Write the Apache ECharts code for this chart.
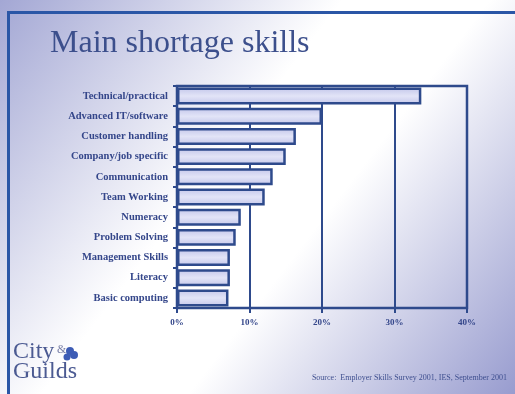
<!DOCTYPE html>
<html>
<head>
<meta charset="utf-8">
<script src="https://cdn.jsdelivr.net/npm/echarts@6/dist/echarts.min.js"></script>
<style>
  html, body { margin: 0; padding: 0; }
  #main { width: 515px; height: 394px; }
</style>
</head>
<body>
<div id="main"></div>
<script>
// skill categories, top to bottom
const skills = [
  'Technical/practical', 'Advanced IT/software', 'Customer handling',
  'Company/job specific', 'Communication', 'Team Working', 'Numeracy',
  'Problem Solving', 'Management Skills', 'Literacy', 'Basic computing'
]
// share of establishments (%)
const shortage = [33.7, 20.0, 16.4, 15.0, 13.2, 12.1, 8.8, 8.1, 7.3, 7.3, 7.1]
const xTicks = [0, 10, 20, 30, 40]

const dark = '#2e4a8c'
const textBlue = '#34468a'
const serif = '"Liberation Serif", "DejaVu Serif", serif'

const chart = echarts.init(document.getElementById('main'))

chart.setOption({
  animation: false,
  // lavender top-left and bottom-right, white band across the middle
  backgroundColor: new echarts.graphic.LinearGradient(0, 0, 1, 1, [
    { offset: 0, color: '#a3a7d4' },
    { offset: 0.42, color: '#ffffff' },
    { offset: 0.6, color: '#ffffff' },
    { offset: 1, color: '#989ccf' }
  ]),
  grid: {
    left: 177, right: 48, top: 86, bottom: 86,
    show: true, borderColor: dark, borderWidth: 2.5,
    backgroundColor: 'transparent'
  },
  xAxis: {
    type: 'value',
    min: xTicks[0],
    max: xTicks[xTicks.length - 1],
    interval: 10,
    axisLine: { show: true, lineStyle: { color: dark, width: 2 } },
    axisTick: { show: true, length: 5, lineStyle: { color: dark, width: 2 } },
    axisLabel: {
      formatter: '{value}%', margin: 10,
      color: textBlue, fontFamily: serif, fontWeight: 'bold', fontSize: 9
    },
    splitLine: { show: true, lineStyle: { color: dark, width: 2 } }
  },
  yAxis: {
    type: 'category',
    data: skills,
    inverse: true,
    axisLine: { show: true, lineStyle: { color: dark, width: 2 } },
    axisTick: { show: true, length: 4, lineStyle: { color: dark, width: 2 } },
    axisLabel: {
      margin: 9, color: textBlue, fontFamily: serif,
      fontWeight: 'bold', fontSize: 10.5
    }
  },
  series: [{
    type: 'bar',
    data: shortage,
    barCategoryGap: '16%',
    itemStyle: {
      color: new echarts.graphic.LinearGradient(0, 0, 0, 1, [
        { offset: 0, color: '#c3c6ea' },
        { offset: 0.5, color: '#e2e4f7' },
        { offset: 1, color: '#c3c6ea' }
      ]),
      borderColor: dark,
      borderWidth: 2.5
    }
  }],
  graphic: [
    // slide frame
    { type: 'line', shape: { x1: 8, y1: 12.5, x2: 515, y2: 12.5 },
      style: { stroke: '#2a56a6', lineWidth: 3 } },
    { type: 'line', shape: { x1: 8.5, y1: 11, x2: 8.5, y2: 394 },
      style: { stroke: '#2a56a6', lineWidth: 3 } },
    // title
    { type: 'text', left: 50, top: 28,
      style: { text: 'Main shortage skills', fill: '#3c4f8c',
        font: '32px ' + serif } },
    // logo
    { type: 'text', left: 13, top: 340,
      style: { text: 'City', fill: '#4b5a92', font: '24px ' + serif } },
    { type: 'text', left: 13, top: 360,
      style: { text: 'Guilds', fill: '#4b5a92', font: '24px ' + serif } },
    { type: 'text', left: 57, top: 344,
      style: { text: '&', fill: '#7a80a8', font: '12px ' + serif } },
    { type: 'circle', shape: { cx: 70, cy: 351, r: 4 }, style: { fill: '#3d5cb5' } },
    { type: 'circle', shape: { cx: 74, cy: 355, r: 4 }, style: { fill: '#3d5cb5' } },
    { type: 'circle', shape: { cx: 67, cy: 357, r: 3.5 }, style: { fill: '#3d5cb5' } },
    // source note
    { type: 'text', right: 8, top: 374,
      style: { text: 'Source:  Employer Skills Survey 2001, IES, September 2001',
        fill: '#3f4f8f', font: '8px ' + serif } }
  ]
})
</script>
</body>
</html>
